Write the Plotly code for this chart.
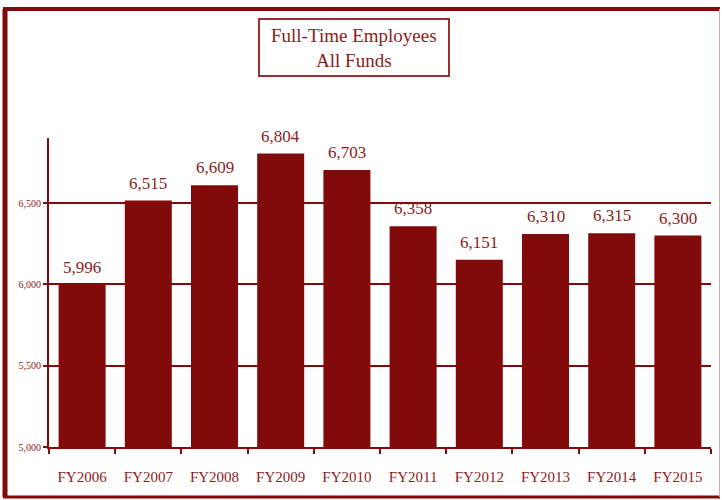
import plotly.graph_objects as go

categories = ["FY2006", "FY2007", "FY2008", "FY2009", "FY2010",
              "FY2011", "FY2012", "FY2013", "FY2014", "FY2015"]
employees = [5996, 6515, 6609, 6804, 6703, 6358, 6151, 6310, 6315, 6300]
y_ticks = [5000, 5500, 6000, 6500]
y_tick_labels = ["5,000", "5,500", "6,000", "6,500"]

RED = "#810B0B"
TXT = "#8E1B1B"
FONT = "Liberation Serif"

fig = go.Figure(go.Bar(
    x=categories, y=employees,
    marker=dict(color=RED, line=dict(width=0)),
))

W, H = 722, 500
L, R, T, B = 49, 11, 138, 53
pw, ph = W - L - R, H - T - B

def px(x):
    return (x - L) / pw

def py(y):
    return (H - B - y) / ph

shapes = [
    # outer frame
    dict(type="line", xref="paper", yref="paper", x0=px(5), x1=px(5), y0=py(9), y1=py(497),
         line=dict(color=RED, width=5)),
    dict(type="line", xref="paper", yref="paper", x0=px(3), x1=px(720), y0=py(9), y1=py(9),
         line=dict(color=RED, width=4)),
    dict(type="line", xref="paper", yref="paper", x0=px(3), x1=px(720), y0=py(497), y1=py(497),
         line=dict(color=RED, width=3)),
    dict(type="line", xref="paper", yref="paper", x0=px(719.5), x1=px(719.5), y0=py(9), y1=py(497),
         line=dict(color="#D9A8A8", width=1)),
    # title box
    dict(type="rect", xref="paper", yref="paper", x0=px(259), x1=px(449), y0=py(19), y1=py(76),
         line=dict(color="#9B2F2F", width=2), fillcolor="white"),
]

annotations = [dict(
    xref="paper", yref="paper", x=px(354), y=py(47.5),
    text="Full-Time Employees<br>All Funds", showarrow=False,
    font=dict(family=FONT, size=19, color=TXT),
    xanchor="center", yanchor="middle",
)]
for c, v in zip(categories, employees):
    annotations.append(dict(
        x=c, y=v, xref="x", yref="y", text=f"{v:,}", showarrow=False,
        xanchor="center", yanchor="bottom", yshift=6,
        font=dict(family=FONT, size=17, color=TXT),
    ))

fig.update_layout(
    width=W, height=H,
    margin=dict(l=L, r=R, t=T, b=B),
    paper_bgcolor="white", plot_bgcolor="white",
    showlegend=False,
    bargap=0.29,
    font=dict(family=FONT, color=TXT),
    shapes=shapes,
    annotations=annotations,
    xaxis=dict(
        showline=True, linecolor=RED, linewidth=2,
        ticks="outside", tickson="boundaries", ticklen=5, tickcolor=RED, tickwidth=2,
        tickfont=dict(family=FONT, size=15, color=TXT),
        ticklabelstandoff=15,
        showgrid=False,
    ),
    yaxis=dict(
        range=[5000, 6900],
        tickvals=y_ticks, ticktext=y_tick_labels,
        showline=True, linecolor=RED, linewidth=2,
        ticks="outside", ticklen=4, tickcolor=RED, tickwidth=2,
        tickfont=dict(family=FONT, size=10, color=TXT),
        showgrid=True, gridcolor=RED, gridwidth=2,
        zeroline=False,
    ),
)

fig.write_html("out.html", config={"displayModeBar": False},
               post_script="document.body.style.margin='0';")
